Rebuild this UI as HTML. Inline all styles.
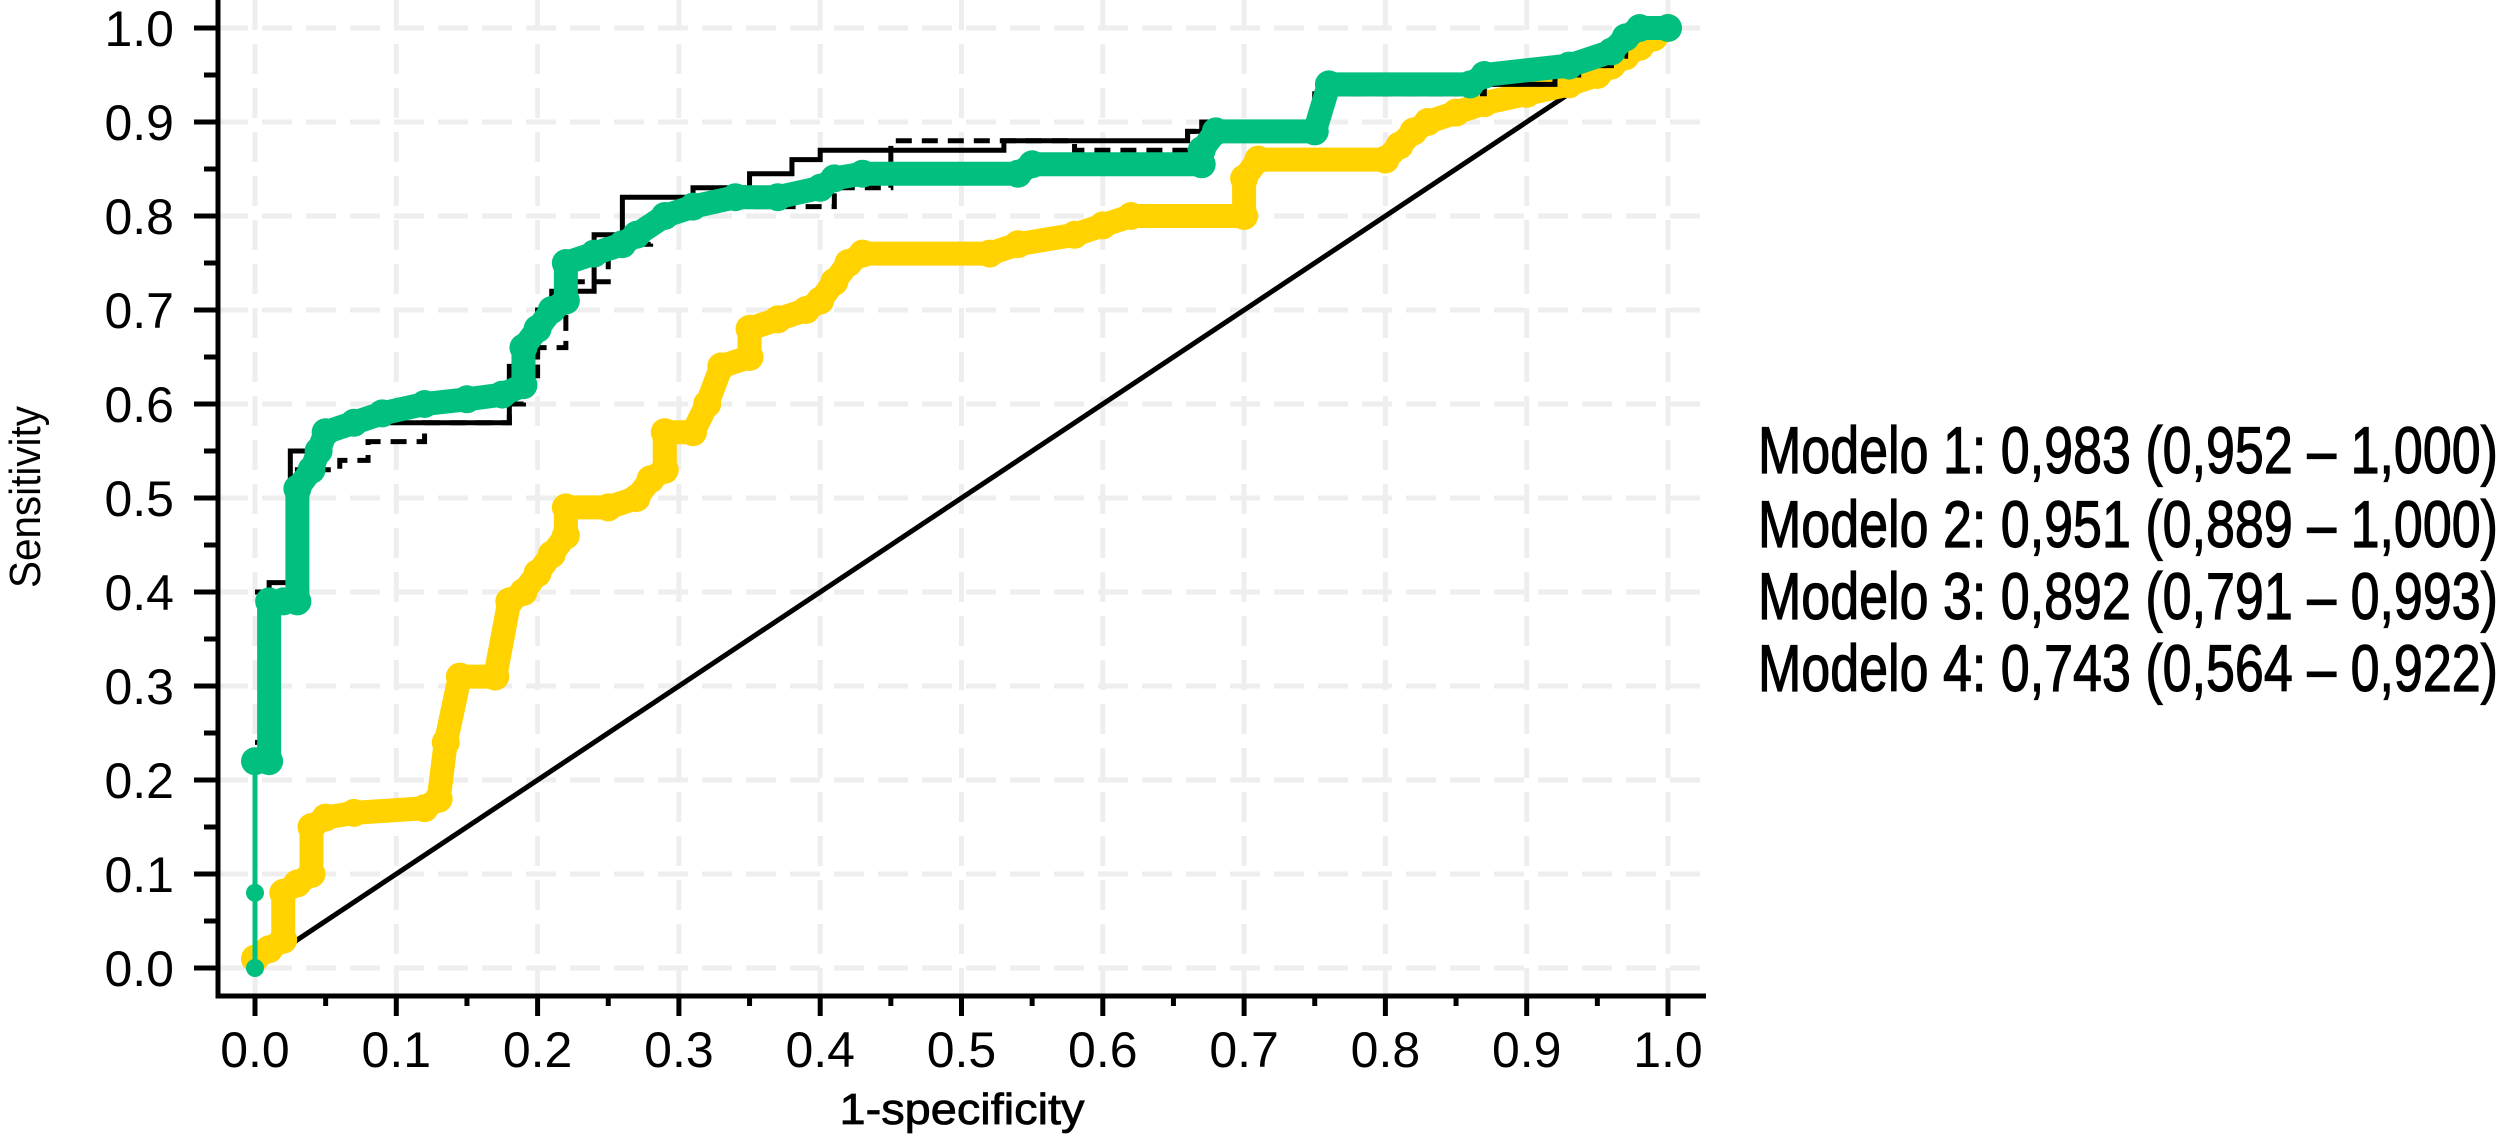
<!DOCTYPE html>
<html><head><meta charset="utf-8">
<style>
html,body{margin:0;padding:0;background:#fff;}
svg{display:block;}
text{font-family:"Liberation Sans",sans-serif;}
</style></head>
<body>
<svg id="chart" width="2500" height="1140" viewBox="0 0 2500 1140" xmlns="http://www.w3.org/2000/svg">
<g id="grid"></g>
<g id="axes"></g>
<g id="series"></g>
<text x="962" y="1124" text-anchor="middle" font-size="44" stroke="#000" stroke-width="0.8" textLength="245" lengthAdjust="spacingAndGlyphs">1-specificity</text>
<text transform="translate(40,497) rotate(-90)" text-anchor="middle" font-size="44" textLength="182" lengthAdjust="spacingAndGlyphs">Sensitivity</text>
<g font-size="66" font-family="'Liberation Sans Narrow','Liberation Sans',sans-serif" stroke="#000" stroke-width="1.2">
<text x="1758" y="473" textLength="740" lengthAdjust="spacingAndGlyphs">Modelo 1: 0,983 (0,952 – 1,000)</text>
<text x="1758" y="547" textLength="740" lengthAdjust="spacingAndGlyphs">Modelo 2: 0,951 (0,889 – 1,000)</text>
<text x="1758" y="619" textLength="740" lengthAdjust="spacingAndGlyphs">Modelo 3: 0,892 (0,791 – 0,993)</text>
<text x="1758" y="691" textLength="740" lengthAdjust="spacingAndGlyphs">Modelo 4: 0,743 (0,564 – 0,922)</text>
</g>
</svg>
<script>
const xTicks = [0,0.1,0.2,0.3,0.4,0.5,0.6,0.7,0.8,0.9,1.0];
const yTicks = [0,0.1,0.2,0.3,0.4,0.5,0.6,0.7,0.8,0.9,1.0];
const tickLabels = ["0.0","0.1","0.2","0.3","0.4","0.5","0.6","0.7","0.8","0.9","1.0"];
// Modelo 1 (black solid step)
const m1X = [0,0.01,0.01,0.025,0.025,0.045,0.045,0.065,0.065,0.18,0.18,0.19,0.19,0.20,0.20,0.21,0.21,0.24,0.24,0.26,0.26,0.31,0.31,0.35,0.35,0.38,0.38,0.40,0.40,0.53,0.53,0.66,0.66,0.67,0.67,0.75,0.75,0.85,0.85,0.92,0.92,0.96,0.96,0.97,0.97,1.0];
const m1Y = [0.24,0.24,0.41,0.41,0.55,0.55,0.57,0.57,0.58,0.58,0.64,0.64,0.65,0.65,0.70,0.70,0.72,0.72,0.78,0.78,0.82,0.82,0.83,0.83,0.845,0.845,0.86,0.86,0.87,0.87,0.88,0.88,0.89,0.89,0.90,0.90,0.93,0.93,0.94,0.94,0.96,0.96,0.975,0.975,1.0,1.0];
// Modelo 2 (black dashed step)
const m2X = [0,0.03,0.03,0.06,0.06,0.08,0.08,0.12,0.12,0.18,0.18,0.19,0.19,0.20,0.20,0.22,0.22,0.25,0.25,0.28,0.28,0.32,0.32,0.41,0.41,0.45,0.45,0.58,0.58,0.66,0.66,0.70,0.70,0.75,0.75,0.87,0.87,0.94,0.94,0.97,0.97,1.0];
const m2Y = [0.40,0.40,0.53,0.53,0.54,0.54,0.56,0.56,0.58,0.58,0.60,0.60,0.63,0.63,0.66,0.66,0.73,0.73,0.77,0.77,0.80,0.80,0.81,0.81,0.83,0.83,0.88,0.88,0.87,0.87,0.89,0.89,0.90,0.90,0.93,0.93,0.95,0.95,0.97,0.97,1.0,1.0];
// Modelo 3 (green)
const m3X = [0,0,0,0.01,0.01,0.02,0.03,0.03,0.04,0.045,0.05,0.07,0.09,0.12,0.15,0.175,0.19,0.19,0.20,0.21,0.22,0.22,0.24,0.26,0.27,0.29,0.31,0.34,0.37,0.40,0.41,0.43,0.54,0.55,0.67,0.67,0.68,0.75,0.76,0.86,0.87,0.93,0.96,0.97,0.98,1.0];
const m3Y = [0,0.08,0.22,0.22,0.39,0.39,0.39,0.51,0.53,0.55,0.57,0.58,0.59,0.60,0.605,0.61,0.62,0.66,0.68,0.70,0.71,0.75,0.76,0.77,0.78,0.80,0.81,0.82,0.82,0.83,0.84,0.845,0.845,0.855,0.855,0.87,0.89,0.89,0.94,0.94,0.95,0.96,0.975,0.99,1.0,1.0];
// Modelo 4 (yellow)
const m4X = [0,0.01,0.02,0.02,0.03,0.04,0.04,0.05,0.07,0.12,0.13,0.135,0.145,0.17,0.18,0.19,0.20,0.21,0.22,0.22,0.25,0.27,0.28,0.29,0.29,0.31,0.32,0.33,0.35,0.35,0.37,0.39,0.40,0.41,0.42,0.43,0.52,0.54,0.58,0.60,0.62,0.70,0.70,0.71,0.80,0.81,0.82,0.83,0.85,0.87,0.90,0.93,0.95,0.96,0.97,0.98,0.99,1.0];
const m4Y = [0.01,0.02,0.03,0.08,0.09,0.10,0.15,0.16,0.165,0.17,0.18,0.24,0.31,0.31,0.39,0.40,0.42,0.44,0.46,0.49,0.49,0.50,0.52,0.53,0.57,0.57,0.60,0.64,0.65,0.68,0.69,0.70,0.71,0.73,0.75,0.76,0.76,0.77,0.78,0.79,0.80,0.80,0.84,0.86,0.86,0.875,0.89,0.90,0.91,0.92,0.93,0.94,0.95,0.96,0.97,0.98,0.99,1.0];

const NS = "http://www.w3.org/2000/svg";
const X0 = 255, X1 = 1668, Y0 = 968, Y1 = 28;
const AX_LEFT = 218, AX_BOTTOM = 996, AX_RIGHT = 1706;
function sx(v){ return X0 + v*(X1-X0); }
function sy(v){ return Y0 - v*(Y0-Y1); }
function mk(tag, attrs, parent){
  const e = document.createElementNS(NS, tag);
  for (const k in attrs) e.setAttribute(k, attrs[k]);
  parent.appendChild(e);
  return e;
}
const grid = document.getElementById('grid');
const axes = document.getElementById('axes');
const series = document.getElementById('series');

xTicks.forEach((t,i)=>{
  const l = mk('line',{x1:sx(t),x2:sx(t),y1:0,y2:AX_BOTTOM,stroke:'#eeeeee','stroke-width':5,'stroke-dasharray':'30 14'},grid);
  
  
});
yTicks.forEach((t,i)=>{
  const l = mk('line',{x1:AX_LEFT,x2:AX_RIGHT,y1:sy(t),y2:sy(t),stroke:'#eeeeee','stroke-width':5,'stroke-dasharray':'30 14'},grid);
  
  
});

const ya = mk('line',{x1:AX_LEFT,x2:AX_LEFT,y1:0,y2:AX_BOTTOM+2.5,stroke:'#000','stroke-width':5},axes);


const xa = mk('line',{x1:AX_LEFT-2.5,x2:AX_RIGHT,y1:AX_BOTTOM,y2:AX_BOTTOM,stroke:'#000','stroke-width':5},axes);



xTicks.forEach((t,i)=>{
  const tk = mk('line',{x1:sx(t),x2:sx(t),y1:AX_BOTTOM,y2:AX_BOTTOM+20,stroke:'#000','stroke-width':5},axes);
  
  
  if (i < xTicks.length-1){
    const m = mk('line',{x1:sx(t+0.05),x2:sx(t+0.05),y1:AX_BOTTOM,y2:AX_BOTTOM+10,stroke:'#000','stroke-width':5},axes);
    
    
  }
  const tx = mk('text',{x:sx(t),y:1067,'text-anchor':'middle','font-size':50},axes);
  tx.textContent = tickLabels[i];
  
  
});
yTicks.forEach((t,i)=>{
  const tk = mk('line',{x1:AX_LEFT-24,x2:AX_LEFT,y1:sy(t),y2:sy(t),stroke:'#000','stroke-width':5},axes);
  
  
  if (i < yTicks.length-1){
    const m = mk('line',{x1:AX_LEFT-14,x2:AX_LEFT,y1:sy(t+0.05),y2:sy(t+0.05),stroke:'#000','stroke-width':5},axes);
    
    
  }
  const tx = mk('text',{x:174,y:sy(t)+18,'text-anchor':'end','font-size':50},axes);
  tx.textContent = tickLabels[i];
  
  
});

function pts(xs, ys){ return xs.map((x,i)=>sx(x)+','+sy(ys[i])).join(' '); }

const diag = mk('line',{x1:sx(0),y1:sy(0),x2:sx(1),y2:sy(1),stroke:'#000','stroke-width':5},series);



const yl = mk('polyline',{points:pts(m4X,m4Y),fill:'none',stroke:'#ffd200','stroke-width':24,'stroke-linejoin':'round','stroke-linecap':'round'},series);


m4X.forEach((x,i)=>{
  const c = mk('circle',{cx:sx(x),cy:sy(m4Y[i]),r:14,fill:'#ffd200'},series);
  
  
});

const l1 = mk('polyline',{points:pts(m1X,m1Y),fill:'none',stroke:'#000','stroke-width':5},series);


const l2 = mk('polyline',{points:pts(m2X,m2Y),fill:'none',stroke:'#000','stroke-width':5,'stroke-dasharray':'16 10'},series);



const gThin = mk('polyline',{points:pts(m3X.slice(0,3),m3Y.slice(0,3)),fill:'none',stroke:'#00bf7f','stroke-width':5},series);


const gl = mk('polyline',{points:pts(m3X.slice(2),m3Y.slice(2)),fill:'none',stroke:'#00bf7f','stroke-width':24,'stroke-linejoin':'round','stroke-linecap':'round'},series);


m3X.forEach((x,i)=>{
  const c = mk('circle',{cx:sx(x),cy:sy(m3Y[i]),r:(i<2?9:14),fill:'#00bf7f'},series);
  
  
});
</script>
</body></html>
